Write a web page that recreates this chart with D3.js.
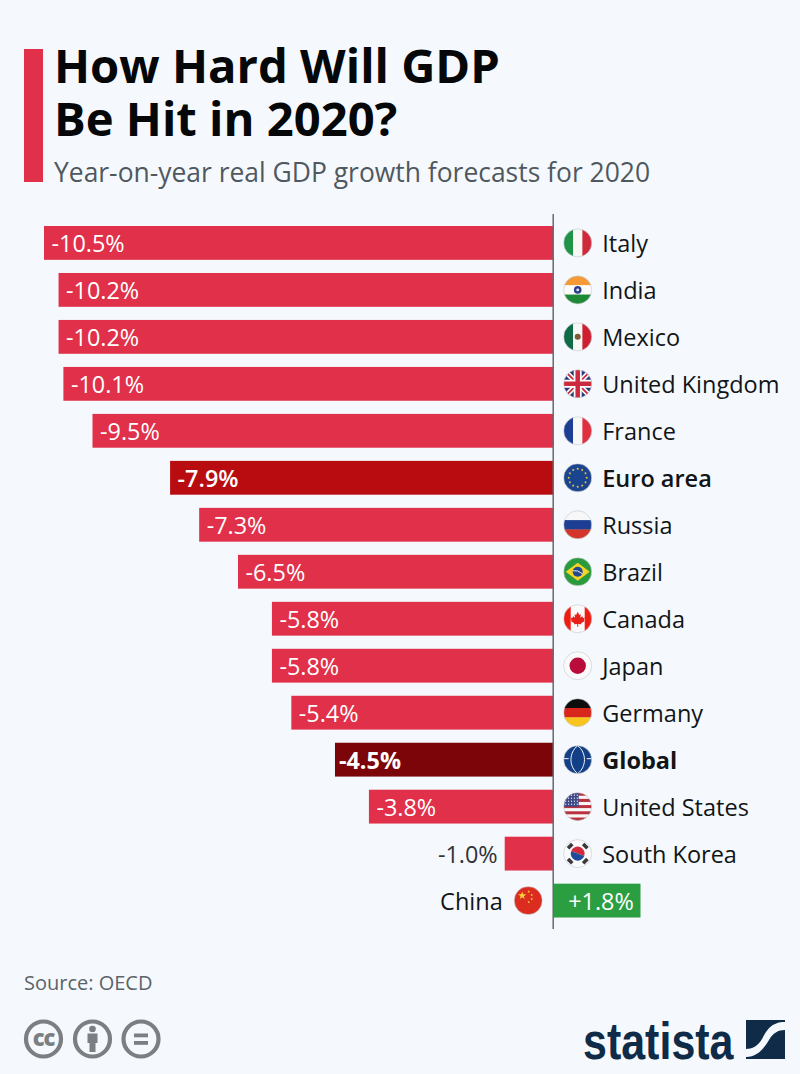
<!DOCTYPE html>
<html lang="en">
<head>
  <meta charset="UTF-8">
  <title>How Hard Will GDP Be Hit in 2020?</title>
  <script src="https://cdn.jsdelivr.net/npm/d3@7"></script>
  <style>
    html, body { margin: 0; padding: 0; background: #f5f9fd; }
    svg { display: block; }
    text { font-family: "Open Sans", sans-serif; }
  </style>
</head>
<body>
<svg id="chart" width="800" height="1074"></svg>

<script>
  // data
  const countries = ['Italy', 'India', 'Mexico', 'United Kingdom', 'France', 'Euro area', 'Russia', 'Brazil',
    'Canada', 'Japan', 'Germany', 'Global', 'United States', 'South Korea', 'China']
  const growth = [-10.5, -10.2, -10.2, -10.1, -9.5, -7.9, -7.3, -6.5, -5.8, -5.8, -5.4, -4.5, -3.8, -1.0, 1.8]
  const titleLines = ['How Hard Will GDP', 'Be Hit in 2020?']
  const subtitle = 'Year-on-year real GDP growth forecasts for 2020'
  const source = 'Source: OECD'

  const RED = '#e0304a', EURO = '#b90c10', GLOBAL = '#7b0508', GREEN = '#2a9e40'
  const INK = '#111517'

  const svg = d3.select('#chart')
  svg.append('rect').attr('width', 800).attr('height', 1074).attr('fill', '#f5f9fd')

  const x = d3.scaleLinear().domain([-10.5, 1.8]).range([44, 640.5])
  const y = d3.scaleBand().domain(countries).range([226, 917.5]).paddingInner(0.28)
  const defs = svg.append('defs')

  // header
  svg.append('rect').attr('x', 24).attr('y', 49).attr('width', 19).attr('height', 133).attr('fill', RED)
  svg.selectAll('text.title').data(titleLines).enter().append('text')
    .attr('class', 'title')
    .attr('x', 54)
    .attr('y', (d, i) => 83 + i * 53)
    .attr('font-size', 47.2)
    .attr('font-weight', 700)
    .attr('fill', '#050708')
    .text(d => d)
  svg.append('text').attr('x', 54).attr('y', 182)
    .attr('font-size', 26.45).attr('fill', '#50585f').text(subtitle)

  // bars
  const barColor = d => d.name == 'Euro area' ? EURO : d.name == 'Global' ? GLOBAL : d.value > 0 ? GREEN : RED
  const rows = countries.map((name, i) => ({ name: name, value: growth[i] }))

  svg.selectAll('rect.bar').data(rows).enter().append('rect')
    .attr('class', 'bar')
    .attr('x', d => Math.min(x(d.value), x(0)))
    .attr('y', d => y(d.name))
    .attr('width', d => Math.abs(x(d.value) - x(0)))
    .attr('height', y.bandwidth())
    .attr('fill', barColor)

  svg.append('line')
    .attr('x1', x(0)).attr('x2', x(0)).attr('y1', 214).attr('y2', 929)
    .attr('stroke', '#666a6d').attr('stroke-width', 1.5)

  // value labels
  const fmt = v => (v > 0 ? '+' : '') + v.toFixed(1) + '%'
  const valueX = d => {
    if (d.value > 0) return x(0) + 15
    if (x(0) - x(d.value) < 60) return x(d.value) - 7
    return x(d.value) + (d.name == 'Global' ? 4 : 7.5)
  }
  svg.selectAll('text.val').data(rows).enter().append('text')
    .attr('class', 'val')
    .attr('x', valueX)
    .attr('y', d => y(d.name) + y.bandwidth() / 2 + 9.2)
    .attr('text-anchor', d => d.value < 0 && x(0) - x(d.value) < 60 ? 'end' : 'start')
    .attr('font-size', 23.4)
    .attr('font-weight', d => d.name == 'Global' ? 700 : d.name == 'Euro area' ? 600 : 400)
    .attr('fill', d => d.value < 0 && x(0) - x(d.value) < 60 ? '#2e3438' : '#ffffff')
    .text(d => fmt(d.value))

  // country labels
  svg.selectAll('text.name').data(rows).enter().append('text')
    .attr('class', 'name')
    .attr('x', d => d.value > 0 ? x(0) - 50.5 : x(0) + 49)
    .attr('y', d => y(d.name) + y.bandwidth() / 2 + 9.2)
    .attr('text-anchor', d => d.value > 0 ? 'end' : 'start')
    .attr('font-size', 23.5)
    .attr('font-weight', d => d.name == 'Global' ? 700 : d.name == 'Euro area' ? 600 : 400)
    .attr('fill', INK)
    .text(d => d.name)

  // flags, each one drawn in a -14..14 box and clipped to a circle
  function bands(g, colors, vertical) {
    const s = d3.scaleBand().domain(d3.range(colors.length)).range([-14, 14])
    colors.forEach((c, i) => {
      g.append('rect')
        .attr('x', vertical ? s(i) : -14).attr('y', vertical ? -14 : s(i))
        .attr('width', vertical ? s.bandwidth() + 0.3 : 28).attr('height', vertical ? 28 : s.bandwidth() + 0.3)
        .attr('fill', c)
    })
  }
  function star(g, cx, cy, r, fill) {
    const pts = d3.range(10).map(i => {
      const a = -Math.PI / 2 + i * Math.PI / 5, q = i % 2 ? r * 0.42 : r
      return [cx + q * Math.cos(a), cy + q * Math.sin(a)]
    })
    g.append('polygon').attr('points', pts.join(' ')).attr('fill', fill)
  }
  const flags = {
    'Italy': g => bands(g, ['#1f9448', '#f7f7f5', '#cf2a3c'], true),
    'India': g => {
      bands(g, ['#f59a36', '#fbfbfb', '#1f8a35'], false)
      g.append('circle').attr('r', 3.8).attr('fill', '#2a3f90')
      g.append('circle').attr('r', 1.4).attr('fill', '#e8e8f4')
    },
    'Mexico': g => {
      bands(g, ['#0f6b47', '#f7f7f5', '#ce1f32'], true)
      g.append('circle').attr('r', 3).attr('fill', '#7d5a32')
    },
    'United Kingdom': g => {
      g.append('rect').attr('x', -14).attr('y', -14).attr('width', 28).attr('height', 28).attr('fill', '#2a3a78')
      g.append('path').attr('d', 'M-14,-14L14,14M14,-14L-14,14').attr('stroke', '#fff').attr('stroke-width', 5)
      g.append('path').attr('d', 'M-14,-14L14,14M14,-14L-14,14').attr('stroke', '#cc2a3e').attr('stroke-width', 1.8)
      g.append('path').attr('d', 'M0,-14V14M-14,0H14').attr('stroke', '#fff').attr('stroke-width', 8)
      g.append('path').attr('d', 'M0,-14V14M-14,0H14').attr('stroke', '#cc2a3e').attr('stroke-width', 4.5)
    },
    'France': g => bands(g, ['#1c3f94', '#f7f7f5', '#e0303f'], true),
    'Euro area': g => {
      g.append('rect').attr('x', -14).attr('y', -14).attr('width', 28).attr('height', 28).attr('fill', '#1a4390')
      d3.range(12).forEach(i => {
        const a = i * Math.PI / 6
        star(g, 9 * Math.cos(a), 9 * Math.sin(a), 1.5, '#f3cc3a')
      })
    },
    'Russia': g => bands(g, ['#f7f7f7', '#1c3f94', '#d4352a'], false),
    'Brazil': g => {
      g.append('rect').attr('x', -14).attr('y', -14).attr('width', 28).attr('height', 28).attr('fill', '#2b9a3c')
      g.append('polygon').attr('points', '-12,0 0,-9 12,0 0,9').attr('fill', '#f5d327')
      g.append('circle').attr('r', 5).attr('fill', '#23488f')
      g.append('path').attr('d', 'M-4.8,-1Q0,-2 4.8,2').attr('fill', 'none').attr('stroke', '#fff').attr('stroke-width', 0.9)
    },
    'Canada': g => {
      bands(g, ['#f01c12', '#fafafa', '#fafafa', '#f01c12'], true)
      g.append('path').attr('fill', '#e8201a')
        .attr('d', 'M0,-7L1.6,-3.8L3.2,-4.6L2.6,-1L4.6,-2.4L5.4,-0.8L7,-1L6.2,1.6L7,2.2L3.4,4.6L3.8,5.6L0.5,5.2V8H-0.5V5.2L-3.8,5.6L-3.4,4.6L-7,2.2L-6.2,1.6L-7,-1L-5.4,-0.8L-4.6,-2.4L-2.6,-1L-3.2,-4.6L-1.6,-3.8Z')
    },
    'Japan': g => {
      g.append('rect').attr('x', -14).attr('y', -14).attr('width', 28).attr('height', 28).attr('fill', '#fafafa')
      g.append('circle').attr('r', 8.2).attr('fill', '#b80d3a')
    },
    'Germany': g => bands(g, ['#0d0d0d', '#d8261c', '#f8c51c'], false),
    'Global': g => {
      g.append('rect').attr('x', -14).attr('y', -14).attr('width', 28).attr('height', 28).attr('fill', '#123f86')
      g.append('path').attr('fill', 'none').attr('stroke', '#f5f9fd').attr('stroke-width', 1)
        .attr('d', 'M0,-14C-9,-7 -9,7 0,14C9,7 9,-7 0,-14M-14,-1H-9M9,-1H14')
    },
    'United States': g => {
      bands(g, ['#b9323f', '#f7f7f7', '#b9323f', '#f7f7f7', '#b9323f', '#f7f7f7', '#b9323f', '#f7f7f7', '#b9323f'], false)
      g.append('rect').attr('x', -14).attr('y', -14).attr('width', 15).attr('height', 14).attr('fill', '#3d4a8a')
      d3.range(4).forEach(r => d3.range(5).forEach(c => {
        g.append('circle').attr('cx', -12 + c * 2.9).attr('cy', -11.5 + r * 3).attr('r', 0.6).attr('fill', '#fff')
      }))
    },
    'South Korea': g => {
      g.append('rect').attr('x', -14).attr('y', -14).attr('width', 28).attr('height', 28).attr('fill', '#fafafa')
      g.append('path').attr('d', 'M-7,0A7,7 0 0 1 7,0Z').attr('fill', '#d22b3c').attr('transform', 'rotate(20)')
      g.append('path').attr('d', 'M-7,0A7,7 0 0 0 7,0Z').attr('fill', '#1f4c9a').attr('transform', 'rotate(20)')
      ;[45, 135, 225, 315].forEach(a => {
        g.append('rect').attr('x', -3).attr('y', -12.5).attr('width', 6).attr('height', 3.6)
          .attr('fill', '#3a3a3a').attr('transform', 'rotate(' + a + ')')
      })
    },
    'China': g => {
      g.append('rect').attr('x', -14).attr('y', -14).attr('width', 28).attr('height', 28).attr('fill', '#dc2c1f')
      star(g, -6, -5, 4.2, '#f8d23a')
      star(g, 0.5, -9, 1.4, '#f8d23a')
      star(g, 3.5, -5.5, 1.4, '#f8d23a')
      star(g, 3.5, -1.5, 1.4, '#f8d23a')
      star(g, 0.5, 1.5, 1.4, '#f8d23a')
    }
  }

  rows.forEach((d, i) => {
    const cx = d.value > 0 ? x(0) - 25 : x(0) + 24.5
    const cy = y(d.name) + y.bandwidth() / 2
    defs.append('clipPath').attr('id', 'clip' + i).append('circle').attr('r', 14)
    const g = svg.append('g').attr('transform', 'translate(' + cx + ',' + cy + ')')
    flags[d.name](g.append('g').attr('clip-path', 'url(#clip' + i + ')'))
    g.append('circle').attr('r', 14).attr('fill', 'none').attr('stroke', '#c4c8cc').attr('stroke-width', 0.6)
  })

  // footer
  svg.append('text').attr('x', 24).attr('y', 989.5).attr('font-size', 20).attr('fill', '#5b6369').text(source)

  const GREY = '#7b7f81'
  const cc = svg.append('g').attr('fill', 'none').attr('stroke', GREY).attr('stroke-width', 4.2)
  ;[43.5, 92.5, 141].forEach(cx => cc.append('circle').attr('cx', cx).attr('cy', 1039).attr('r', 17.5))
  svg.append('text').attr('x', 43.5).attr('y', 1046).attr('text-anchor', 'middle')
    .attr('font-size', 22).attr('font-weight', 800).attr('letter-spacing', -1).attr('fill', GREY).text('cc')
  svg.append('circle').attr('cx', 92.5).attr('cy', 1029).attr('r', 3.3).attr('fill', GREY)
  svg.append('path').attr('fill', GREY)
    .attr('d', 'M87.5,1033.5H97.5V1043H95.5V1052H89.5V1043H87.5Z')
  svg.append('rect').attr('x', 134).attr('y', 1033.5).attr('width', 14).attr('height', 3.8).attr('fill', GREY)
  svg.append('rect').attr('x', 134).attr('y', 1041).attr('width', 14).attr('height', 3.8).attr('fill', GREY)

  // statista logo
  const NAVY = '#0f2b48'
  svg.append('text').attr('x', 583).attr('y', 1059)
    .style('font-family', '"Liberation Sans Narrow", "Liberation Sans", sans-serif')
    .attr('font-size', 52).attr('font-weight', 700).attr('fill', NAVY)
    .attr('textLength', 150.5).attr('lengthAdjust', 'spacingAndGlyphs').text('statista')
  svg.append('path').attr('fill', NAVY)
    .attr('d', 'M746,1020H785V1022C771,1022 767,1030 762,1039C758,1046 752,1049 746,1049Z')
  svg.append('path').attr('fill', NAVY)
    .attr('d', 'M785,1059H746V1057C758,1057 764,1048 769,1040C773,1033 778,1030 785,1030Z')
</script>
</body>
</html>
